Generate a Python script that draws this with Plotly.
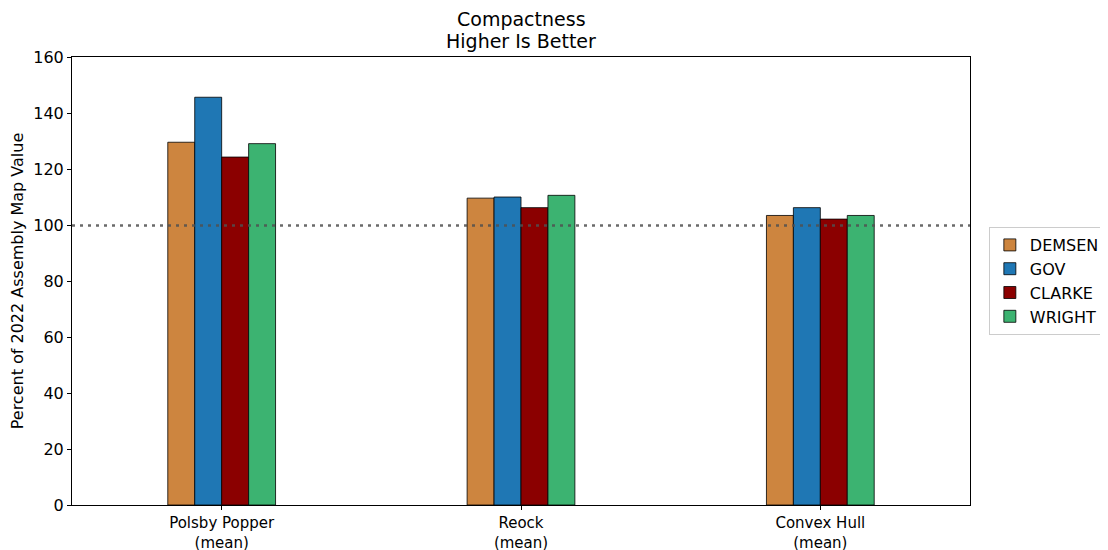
import plotly.graph_objects as go

categories = ["Polsby Popper<br>(mean)", "Reock<br>(mean)", "Convex Hull<br>(mean)"]
series_names = ["DEMSEN", "GOV", "CLARKE", "WRIGHT"]
demsen = [129.8, 109.8, 103.6]
gov = [145.9, 110.2, 106.4]
clarke = [124.5, 106.4, 102.3]
wright = [129.3, 110.8, 103.6]
colors = ["#CD853F", "#1F77B4", "#8B0000", "#3CB371"]
y_ticks = [0, 20, 40, 60, 80, 100, 120, 140, 160]
reference_value = 100
title_lines = ["Compactness", "Higher Is Better"]

fig = go.Figure()
for name, vals, col in zip(series_names, [demsen, gov, clarke, wright], colors):
    fig.add_trace(go.Bar(
        x=categories, y=vals, name=name,
        marker=dict(color=col, line=dict(color="black", width=0.8)),
    ))

fig.add_shape(type="line", xref="paper", yref="y", x0=0, x1=1,
              y0=reference_value, y1=reference_value,
              line=dict(color="rgba(80,80,80,0.85)", width=2.5, dash="3px,5px"),
              layer="above")

font_family = "DejaVu Sans"
for text, ypos in zip(title_lines, [1.085, 1.036]):
    fig.add_annotation(text=text, xref="paper", yref="paper", x=0.5, y=ypos,
                       xanchor="center", yanchor="middle", showarrow=False,
                       font=dict(size=19, family=font_family, color="black"))

# page body has an 8px margin, so the figure is 8px smaller and offset
fig.update_layout(
    width=1100, height=542,
    margin=dict(l=64, r=138, t=49, b=45, autoexpand=False),
    paper_bgcolor="white", plot_bgcolor="white",
    barmode="group", bargap=0.64, bargroupgap=0,
    font=dict(family=font_family, size=16, color="black"),
    legend=dict(x=1.021, y=0.5, xanchor="left", yanchor="middle",
                bordercolor="#CCCCCC", borderwidth=1, bgcolor="white",
                font=dict(size=16), tracegroupgap=0, itemwidth=30),
    xaxis=dict(range=[-0.5, 2.5], showline=True, linecolor="black", linewidth=1,
               mirror=True, ticks="outside", ticklen=4, tickcolor="black",
               showgrid=False, tickfont=dict(size=15), automargin=False),
    yaxis=dict(range=[0, 160.3], tickvals=y_ticks, showline=True, linecolor="black",
               linewidth=1, mirror=True, ticks="outside", ticklen=4, tickcolor="black",
               showgrid=False, zeroline=False, tickfont=dict(size=16), automargin=False,
               title=dict(text="Percent of 2022 Assembly Map Value", standoff=6,
                          font=dict(size=16))),
)

fig.write_html("out.html")
